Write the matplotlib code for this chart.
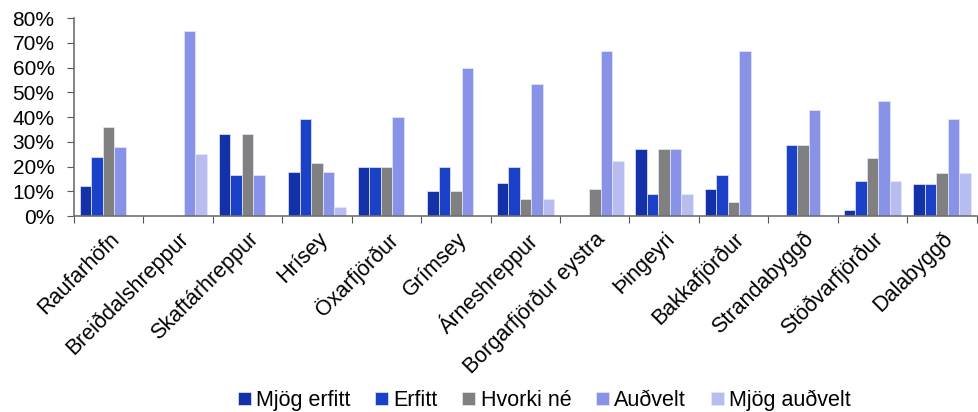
import numpy as np
import matplotlib.pyplot as plt
from matplotlib.ticker import PercentFormatter

# ---------------------------------------------------------
# Data (share of answers, %)
# ---------------------------------------------------------
places = ["Raufarhöfn", "Breiðdalshreppur", "Skaftárhreppur", "Hrísey", "Öxarfjörður",
          "Grímsey", "Árneshreppur", "Borgarfjörður eystra", "Þingeyri", "Bakkafjörður",
          "Strandabyggð", "Stöðvarfjörður", "Dalabyggð"]
series_names = ["Mjög erfitt", "Erfitt", "Hvorki né", "Auðvelt", "Mjög auðvelt"]

mjog_erfitt = [12.0, 0, 33.3, 17.9, 20.0, 10.0, 13.3, 0, 27.3, 11.1, 0, 2.3, 13.0]
erfitt = [24.0, 0, 16.7, 39.3, 20.0, 20.0, 20.0, 0, 9.1, 16.7, 28.6, 14.0, 13.0]
hvorki_ne = [36.0, 0, 33.3, 21.4, 20.0, 10.0, 6.7, 11.1, 27.3, 5.6, 28.6, 23.3, 17.4]
audvelt = [28.0, 75.0, 16.7, 17.9, 40.0, 60.0, 53.3, 66.7, 27.3, 66.7, 42.9, 46.5, 39.1]
mjog_audvelt = [0, 25.0, 0, 3.6, 0, 0, 6.7, 22.2, 9.1, 0, 0, 14.0, 17.4]

colors = ["#1432A8", "#1A41C8", "#808080", "#8893E8", "#B8BDF0"]

plt.rcParams['font.family'] = ['Liberation Sans', 'DejaVu Sans']

fig = plt.figure(figsize=(9.79, 4.12), dpi=100)
ax = fig.add_axes([0.0756, 0.4757, 0.922, 0.480])

x = np.arange(len(places))
width = 0.166
all_series = [mjog_erfitt, erfitt, hvorki_ne, audvelt, mjog_audvelt]
for i, (name, vals) in enumerate(zip(series_names, all_series)):
    ax.bar(x + (i - 2) * width, vals, width, color=colors[i], label=name,
           edgecolor="#E6E8FA", linewidth=0.5)

ax.set_xlim(-0.5, len(places) - 0.5)
ax.set_ylim(0, 80)
ax.set_yticks(np.arange(0, 81, 10))
ax.yaxis.set_major_formatter(PercentFormatter(decimals=0))

# tick marks at group boundaries, labels at group centers
ax.set_xticks(np.arange(-0.5, len(places), 1.0))
ax.set_xticklabels([])
ax.set_xticks(x, minor=True)
ax.set_xticklabels(places, minor=True, rotation=45, ha="right", rotation_mode="anchor")
ax.tick_params(axis="x", which="minor", length=0, labelsize=15.5, pad=9)
ax.tick_params(axis="x", which="major", length=5, color="#555555", direction="out")
ax.tick_params(axis="y", labelsize=15, length=5, color="#555555", pad=9)

for s in ["top", "right"]:
    ax.spines[s].set_visible(False)
for s in ["left", "bottom"]:
    ax.spines[s].set_color("#707070")
    ax.spines[s].set_linewidth(1.2)

fig.legend(loc="lower center", ncol=5, bbox_to_anchor=(0.556, -0.045), frameon=False,
           fontsize=15.5, handlelength=0.6, handleheight=0.6, handletextpad=0.25,
           columnspacing=1.15)

plt.savefig("out.png", dpi=100)
